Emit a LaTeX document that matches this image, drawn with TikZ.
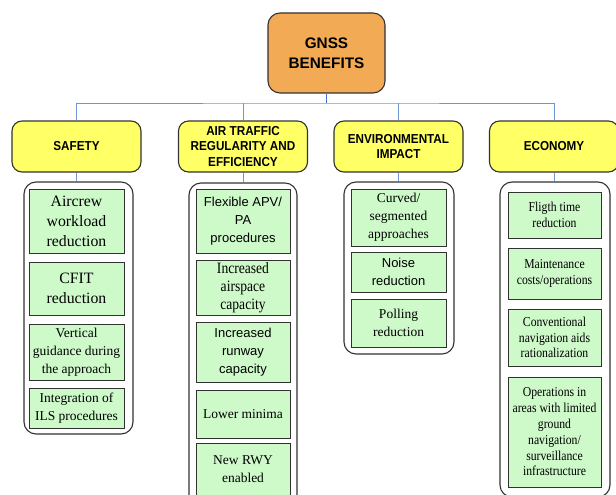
\documentclass[tikz,border=0pt]{standalone}
\usepackage{fontspec}
\setmainfont{Liberation Serif}
\setsansfont{Liberation Sans}
\newfontfamily\condserif[FakeStretch=0.86]{Liberation Serif}
\newfontfamily\condsans[FakeStretch=0.9]{Liberation Sans}
\definecolor{rootfill}{RGB}{243,170,84}
\definecolor{headfill}{RGB}{255,255,102}
\definecolor{itemfill}{RGB}{206,250,202}
\definecolor{linkblue}{RGB}{110,150,214}
\definecolor{trunkblue}{RGB}{68,114,196}
\definecolor{edge}{RGB}{50,50,50}
\tikzset{
  x=1pt, y=-1pt,
  rootbox/.style={draw=edge, line width=1.1pt, fill=rootfill, rounded corners=12pt,
    minimum width=117pt, minimum height=80pt, align=center, inner sep=0pt,
    font=\sffamily\bfseries\fontsize{15.3}{20}\selectfont},
  headbox/.style={draw=edge, line width=1.1pt, fill=headfill, rounded corners=10pt,
    minimum width=129pt, minimum height=51pt, align=center, inner sep=0pt,
    font=\condsans\bfseries\fontsize{13}{15.6}\selectfont},
  groupbox/.style={draw=edge, line width=1.1pt, fill=white, rounded corners=12pt,
    inner sep=0pt},
  itembox/.style={draw=edge, line width=0.8pt, fill=itemfill, align=center,
    inner sep=0pt},
  big/.style={font=\fontsize{15.8}{20}\selectfont},
  mid/.style={font=\fontsize{13.5}{18}\selectfont},
  midcond/.style={font=\condserif\fontsize{15.8}{18}\selectfont},
  midsans/.style={font=\sffamily\fontsize{13}{18}\selectfont},
  small/.style={font=\condserif\fontsize{13.6}{15.8}\selectfont},
  link/.style={draw=linkblue, line width=1pt},
  trunk/.style={draw=trunkblue, line width=1.6pt},
}
% box from left/top/right/bottom edges
\newcommand{\itemat}[7][]{%
  \node[itembox,#1, minimum width=#4-#2, minimum height=#5-#3]
    (#6) at ({(#2+#4)/2},{(#3+#5)/2}) {#7};}
\begin{document}
\begin{tikzpicture}
\useasboundingbox (0,0) rectangle (616,495);
\clip (0,0) rectangle (616,495);

% root and the four categories
\node[rootbox] (g) at (326.5,53) {GNSS\\BENEFITS};
\node[headbox] (safety) at (76.5,146.5) {SAFETY};
\node[headbox] (air) at (243,146.5) {AIR TRAFFIC\\REGULARITY AND\\EFFICIENCY};
\node[headbox] (env) at (398.5,146.5) {ENVIRONMENTAL\\IMPACT};
\node[headbox] (eco) at (554,146.5) {ECONOMY};

% group frames
\node[groupbox, minimum width=109pt, minimum height=252pt] (cs) at (78.5,308) {};
\node[groupbox, minimum width=108pt, minimum height=336pt] (ca) at (243,351) {};
\node[groupbox, minimum width=110pt, minimum height=172pt] (ce) at (399,268) {};
\node[groupbox, minimum width=110pt, minimum height=315pt] (cc) at (555,339.5) {};

% safety items
\itemat[big]{29}{189}{124}{253}{s1}{Aircrew\\workload\\reduction}
\itemat[big]{29}{262}{124}{315}{s2}{CFIT\\reduction}
\itemat[mid]{29}{324}{124}{380}{s3}{Vertical\\guidance during\\the approach}
\itemat[mid]{29}{388}{124}{428}{s4}{Integration of\\ILS procedures}

% air traffic items
\itemat[midsans]{196}{189}{290}{253}{a1}{Flexible APV/\\PA\\procedures}
\itemat[midcond]{196}{260}{290}{315}{a2}{Increased\\airspace\\capacity}
\itemat[midsans]{196}{322}{290}{382}{a3}{Increased\\runway\\capacity}
\itemat[mid]{196}{390}{290}{438}{a4}{Lower minima}
\itemat[mid]{196}{443}{290}{495}{a5}{New RWY\\enabled}

% environmental items
\itemat[mid]{351}{189}{446}{246}{e1}{Curved/\\segmented\\approaches}
\itemat[midsans]{351}{252}{446}{292}{e2}{Noise\\reduction}
\itemat[mid]{351}{299}{446}{347}{e3}{Polling\\reduction}

% economy items
\itemat[small]{508}{192}{601}{238}{c1}{Fligth time\\reduction}
\itemat[small]{508}{248}{601}{299}{c2}{Maintenance\\costs/operations}
\itemat[small]{508}{309}{601}{366}{c3}{Conventional\\navigation aids\\rationalization}
\itemat[small]{508}{377}{601}{487}{c4}{Operations in\\areas with limited\\ground\\navigation/\\surveillance\\infrastructure}

% tree connectors
\coordinate (jn) at (326.5,103);
\draw[link] (safety.north) |- (jn) -| (eco.north);
\draw[link] (air.north) -- (air.north |- jn);
\draw[link] (env.north) -- (env.north |- jn);
\draw[trunk] (g.south) -- (jn);
\draw[link] (safety.south) -- (safety.south |- cs.north);
\draw[link] (air.south) -- (air.south |- ca.north);
\draw[link] (env.south) -- (env.south |- ce.north);
\draw[link] (eco.south) -- (eco.south |- cc.north);
\end{tikzpicture}
\end{document}
